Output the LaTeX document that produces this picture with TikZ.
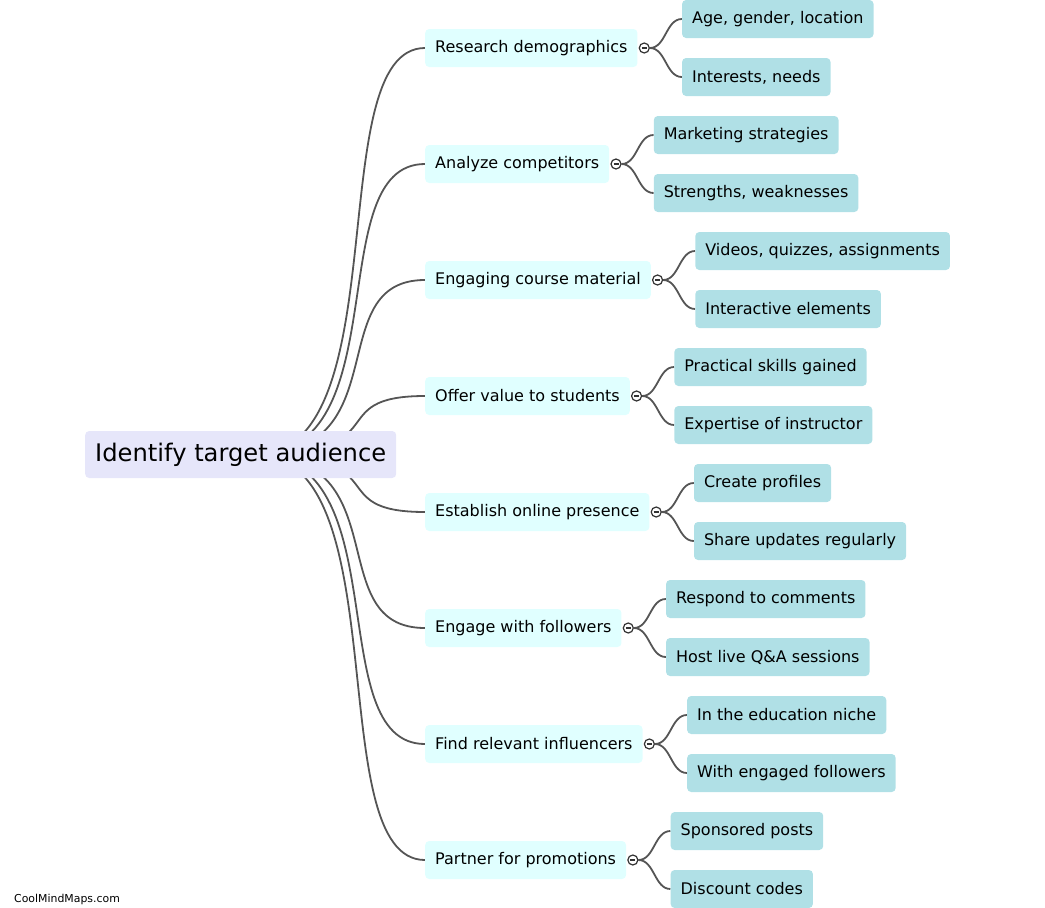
\documentclass[tikz,border=0pt]{standalone}
\usepackage{fontspec}
\setmainfont{DejaVu Sans}
\usetikzlibrary{positioning,backgrounds}
\definecolor{rootfill}{HTML}{E6E6FA}
\definecolor{topicfill}{HTML}{E0FFFF}
\definecolor{leaffill}{HTML}{B0E0E6}
\definecolor{linkgray}{HTML}{555555}

\begin{document}
\begin{tikzpicture}[
    x=1pt, y=-1pt,
    root/.style={rectangle, fill=rootfill, rounded corners=4pt, minimum height=47pt, inner xsep=10pt, font=\fontsize{24.2}{29}\selectfont, anchor=west},
    topic/.style={rectangle, fill=topicfill, rounded corners=4pt, minimum height=38pt, inner xsep=10pt, font=\fontsize{16}{19}\selectfont, anchor=west},
    leaf/.style={rectangle, fill=leaffill, rounded corners=4pt, minimum height=38pt, inner xsep=10pt, font=\fontsize{16}{19}\selectfont},
    toggle/.style={circle, draw=black!80, fill=white, line width=1.2pt, minimum size=10pt, inner sep=0pt,
        path picture={\draw[line width=1.1pt, black!80] ([xshift=2.5pt]path picture bounding box.west) -- ([xshift=-2.5pt]path picture bounding box.east);}},
    link/.style={draw=linkgray, line width=1.8pt}
]
\useasboundingbox (0,0) rectangle (1045,908);

\node[root] (root) at (85,454.5) {Identify target audience};

\node[topic] (demo) at (425,48) {Research demographics};
\node[topic] (comp) at (425,164) {Analyze competitors};
\node[topic] (material) at (425,280) {Engaging course material};
\node[topic] (value) at (425,396) {Offer value to students};
\node[topic] (presence) at (425,512) {Establish online presence};
\node[topic] (engage) at (425,628) {Engage with followers};
\node[topic] (influ) at (425,744) {Find relevant influencers};
\node[topic] (partner) at (425,860) {Partner for promotions};

\node[toggle, right=1pt of demo] (demo-t) {};
\node[toggle, right=1pt of comp] (comp-t) {};
\node[toggle, right=1pt of material] (material-t) {};
\node[toggle, right=1pt of value] (value-t) {};
\node[toggle, right=1pt of presence] (presence-t) {};
\node[toggle, right=1pt of engage] (engage-t) {};
\node[toggle, right=1pt of influ] (influ-t) {};
\node[toggle, right=1pt of partner] (partner-t) {};

\node[leaf, right=32pt of demo-t, yshift=29pt] (demo-a) {Age, gender, location};
\node[leaf, right=32pt of demo-t, yshift=-29pt] (demo-b) {Interests, needs};
\node[leaf, right=32pt of comp-t, yshift=29pt] (comp-a) {Marketing strategies};
\node[leaf, right=32pt of comp-t, yshift=-29pt] (comp-b) {Strengths, weaknesses};
\node[leaf, right=32pt of material-t, yshift=29pt] (material-a) {Videos, quizzes, assignments};
\node[leaf, right=32pt of material-t, yshift=-29pt] (material-b) {Interactive elements};
\node[leaf, right=32pt of value-t, yshift=29pt] (value-a) {Practical skills gained};
\node[leaf, right=32pt of value-t, yshift=-29pt] (value-b) {Expertise of instructor};
\node[leaf, right=32pt of presence-t, yshift=29pt] (presence-a) {Create profiles};
\node[leaf, right=32pt of presence-t, yshift=-29pt] (presence-b) {Share updates regularly};
\node[leaf, right=32pt of engage-t, yshift=29pt] (engage-a) {Respond to comments};
\node[leaf, right=32pt of engage-t, yshift=-29pt] (engage-b) {Host live Q\&A sessions};
\node[leaf, right=32pt of influ-t, yshift=29pt] (influ-a) {In the education niche};
\node[leaf, right=32pt of influ-t, yshift=-29pt] (influ-b) {With engaged followers};
\node[leaf, right=32pt of partner-t, yshift=29pt] (partner-a) {Sponsored posts};
\node[leaf, right=32pt of partner-t, yshift=-29pt] (partner-b) {Discount codes};

\node[anchor=west, inner sep=0pt, font=\fontsize{10.9}{13}\selectfont] (credit) at (14,899) {CoolMindMaps.com};

% branches behind the boxes
\begin{scope}[on background layer]
\draw[link] ([xshift=170pt]root.west) .. controls +(145,0) and +(-105,0) .. (demo.west);
\draw[link] ([xshift=170pt]root.west) .. controls +(145,0) and +(-105,0) .. (comp.west);
\draw[link] ([xshift=170pt]root.west) .. controls +(145,0) and +(-105,0) .. (material.west);
\draw[link] ([xshift=170pt]root.west) .. controls +(145,0) and +(-105,0) .. (value.west);
\draw[link] ([xshift=170pt]root.west) .. controls +(145,0) and +(-105,0) .. (presence.west);
\draw[link] ([xshift=170pt]root.west) .. controls +(145,0) and +(-105,0) .. (engage.west);
\draw[link] ([xshift=170pt]root.west) .. controls +(145,0) and +(-105,0) .. (influ.west);
\draw[link] ([xshift=170pt]root.west) .. controls +(145,0) and +(-105,0) .. (partner.west);

\draw[link] (demo-t.east) .. controls +(16,0) and +(-16,0) .. (demo-a.west);
\draw[link] (demo-t.east) .. controls +(16,0) and +(-16,0) .. (demo-b.west);
\draw[link] (comp-t.east) .. controls +(16,0) and +(-16,0) .. (comp-a.west);
\draw[link] (comp-t.east) .. controls +(16,0) and +(-16,0) .. (comp-b.west);
\draw[link] (material-t.east) .. controls +(16,0) and +(-16,0) .. (material-a.west);
\draw[link] (material-t.east) .. controls +(16,0) and +(-16,0) .. (material-b.west);
\draw[link] (value-t.east) .. controls +(16,0) and +(-16,0) .. (value-a.west);
\draw[link] (value-t.east) .. controls +(16,0) and +(-16,0) .. (value-b.west);
\draw[link] (presence-t.east) .. controls +(16,0) and +(-16,0) .. (presence-a.west);
\draw[link] (presence-t.east) .. controls +(16,0) and +(-16,0) .. (presence-b.west);
\draw[link] (engage-t.east) .. controls +(16,0) and +(-16,0) .. (engage-a.west);
\draw[link] (engage-t.east) .. controls +(16,0) and +(-16,0) .. (engage-b.west);
\draw[link] (influ-t.east) .. controls +(16,0) and +(-16,0) .. (influ-a.west);
\draw[link] (influ-t.east) .. controls +(16,0) and +(-16,0) .. (influ-b.west);
\draw[link] (partner-t.east) .. controls +(16,0) and +(-16,0) .. (partner-a.west);
\draw[link] (partner-t.east) .. controls +(16,0) and +(-16,0) .. (partner-b.west);
\end{scope}
\end{tikzpicture}
\end{document}
